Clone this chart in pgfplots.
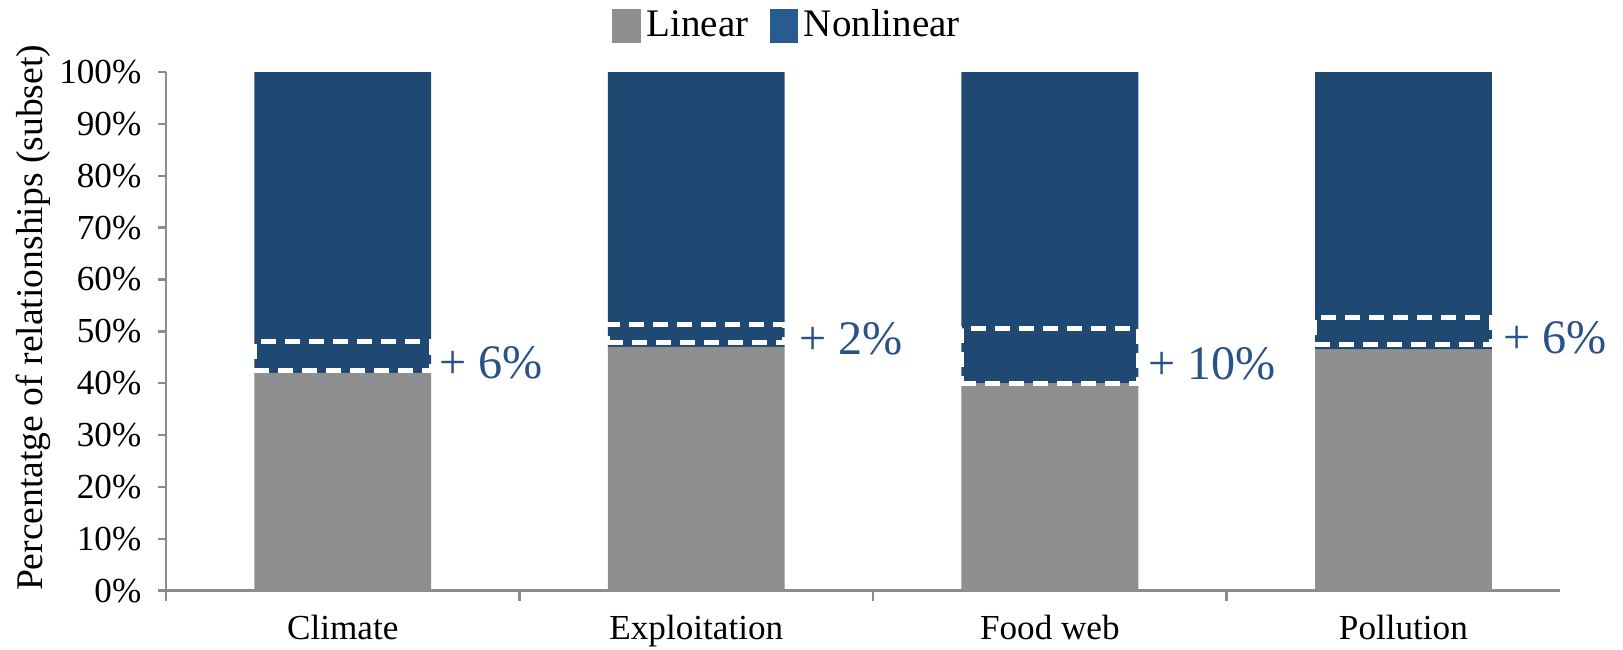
\documentclass[border=0pt]{standalone}
\usepackage{fontspec}
\setmainfont{Liberation Serif}
\usepackage{pgfplots}
\usepackage{pgfplotstable}
\pgfplotsset{compat=1.18}

\definecolor{lingray}{HTML}{8F8F8F}
\definecolor{nlblue}{HTML}{1F4972}
\definecolor{nlleg}{HTML}{285C91}
\definecolor{anncol}{HTML}{2A5286}
\definecolor{axgray}{HTML}{8C8C8C}

% share of relationships per driver (%)
\pgfplotstableread{
x linear nonlinear
0 42   58
1 47   53
2 40   60
3 46.5 53.5
}\shares

\pgfplotsset{gainbox/.style={white, line width=1.4pt, dash pattern=on 0.15cm off 0.09cm, forget plot}}

\begin{document}
\begin{tikzpicture}
\useasboundingbox (0,0) rectangle (16.23,6.49);
\begin{axis}[
    at={(1.66cm,0.583cm)}, anchor=south west,
    scale only axis, width=13.94cm, height=5.187cm,
    ybar stacked, bar width=0.5,
    xmin=-0.5, xmax=3.443, ymin=0, ymax=100,
    axis x line*=bottom, axis y line*=left,
    axis line style={axgray, line width=0.7pt},
    tick align=outside,
    tick style={axgray, line width=0.7pt},
    major tick length=0.08cm, minor tick length=0.1cm,
    xtick={0,1,2,3},
    xticklabels={Climate,Exploitation,Food web,Pollution},
    major x tick style={draw=none},
    minor xtick={-0.5,0.5,1.5,2.5},
    ytick={0,10,...,100},
    yticklabels={0\%,10\%,20\%,30\%,40\%,50\%,60\%,70\%,80\%,90\%,100\%},
    tick label style={font=\fontsize{10}{12}\selectfont},
    xticklabel style={anchor=base, yshift=-0.41cm},
    yticklabel style={inner sep=0pt, xshift=-0.16cm},
    ylabel={Percentatge of relationships (subset)},
    ylabel style={at={(axis description cs:-0.0954,0.526)}, anchor=center,
        font=\fontsize{10.7}{12}\selectfont},
    legend style={at={(0.447,1.089)}, anchor=center, draw=none, fill=none,
        font=\fontsize{11.1}{13}\selectfont, nodes={inner sep=0.06cm},
        /tikz/every even column/.append style={column sep=0.15cm}},
    legend columns=2,
]
\addplot[fill=lingray, draw=none, forget plot] table[x=x, y=linear] {\shares};
\addplot[fill=nlblue, draw=none, forget plot] table[x=x, y=nonlinear] {\shares};
\addlegendimage{legend image code/.code={\fill[lingray] (0cm,-0.16cm) rectangle (0.27cm,0.16cm);}}
\addlegendentry{Linear}
\addlegendimage{legend image code/.code={\fill[nlleg] (0cm,-0.16cm) rectangle (0.27cm,0.16cm);}}
\addlegendentry{Nonlinear}
\end{axis}

\begin{axis}[
    at={(1.66cm,0.583cm)}, anchor=south west,
    scale only axis, width=13.94cm, height=5.187cm,
    xmin=-0.5, xmax=3.443, ymin=0, ymax=100,
    hide axis, clip=false,
]
\addplot[gainbox] coordinates {(-0.25,42.5) (0.25,42.5) (0.25,48) (-0.25,48)} -- cycle;
\addplot[gainbox] coordinates {(0.75,47.8) (1.25,47.8) (1.25,51.4) (0.75,51.4)} -- cycle;
\addplot[gainbox] coordinates {(1.75,40) (2.25,40) (2.25,50.6) (1.75,50.6)} -- cycle;
\addplot[gainbox] coordinates {(2.75,47.4) (3.25,47.4) (3.25,52.7) (2.75,52.7)} -- cycle;
\begin{scope}[every node/.style={anchor=west, inner sep=0pt, text=anncol,
        font=\fontsize{13.7}{16}\selectfont}]
\node at (axis cs:0.271,43.9) {+ 6\%};
\node at (axis cs:1.289,48.5) {+ 2\%};
\node at (axis cs:2.277,43.7) {+ 10\%};
\node at (axis cs:3.280,48.7) {+ 6\%};
\end{scope}
\end{axis}
\end{tikzpicture}
\end{document}
